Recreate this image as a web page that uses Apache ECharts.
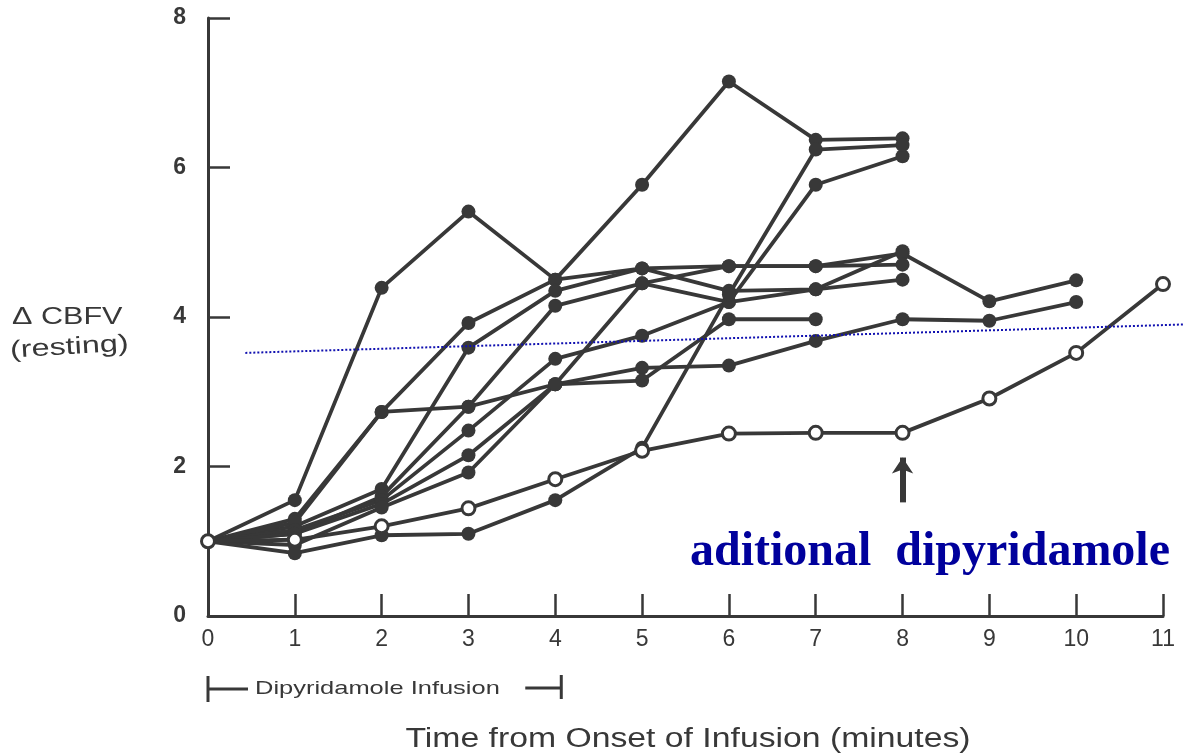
<!DOCTYPE html>
<html>
<head>
<meta charset="utf-8">
<script src="https://cdn.jsdelivr.net/npm/echarts@6/dist/echarts.min.js"></script>
<style>html,body{margin:0;padding:0;background:#fff;}#c{width:1184px;height:755px;}</style>
</head>
<body>
<div id="c"></div>
<script>
const minutes = [0,1,2,3,4,5,6,7,8,9,10,11];
const yTicks = [0,2,4,6,8];
const s1 = [1, 1.55, 4.39, 5.41, 4.5, 4.65, 4.68, 4.68, 4.85, 4.21, 4.49];
const s2 = [1, 1.3, 2.73, 3.92, 4.5, 5.77, 7.15, 6.37, 6.39];
const s3 = [1, 1.2, 1.7, 3.59, 4.35, 4.65, 4.35, 4.37, 4.5];
const s4 = [1, 1.1, 1.6, 2.8, 4.15, 4.45, 4.2, 4.37, 4.88];
const s5 = [1, 1.25, 2.73, 2.8, 3.1, 3.32, 3.35, 3.68, 3.97, 3.95, 4.2];
const s6 = [1, 1.15, 1.55, 2.48, 3.44, 3.75, 4.2, 5.77, 6.15];
const s7 = [1, 1.1, 1.5, 2.15, 3.1, 3.15, 3.97, 3.97];
const s8 = [1, 0.95, 1.45, 1.92, 3.1, 4.45, 4.68, 4.68, 4.7];
const s9 = [1, 0.84, 1.08, 1.1, 1.55, 2.25, 4.3, 6.24, 6.3];
const sOpen = [1, 1.02, 1.2, 1.44, 1.83, 2.21, 2.44, 2.45, 2.45, 2.91, 3.52, 4.44];
const filled = [s1,s2,s3,s4,s5,s6,s7,s8,s9];

const ink = '#383838';
const chart = echarts.init(document.getElementById('c'));
const toPairs = arr => arr.map((v,i)=>[minutes[i], v]);

const series = filled.map((arr, k) => ({
  type:'line', name:'s'+(k+1), data: toPairs(arr),
  symbol:'circle', symbolSize:14,
  lineStyle:{color:ink, width:3.8},
  itemStyle:{color:ink},
  z: 3
}));
series.push({
  type:'line', name:'open', data: toPairs(sOpen),
  symbol:'circle', symbolSize:13,
  lineStyle:{color:ink, width:3.8},
  itemStyle:{color:'#fff', borderColor:ink, borderWidth:3},
  z: 4,
  markLine:{
    silent:true, symbol:['none','arrow'], symbolSize:[16,16],
    lineStyle:{color:ink, width:6, type:'solid'}, label:{show:false},
    data:[[{coord:[8,1.52]},{coord:[8,2.12]}]]
  }
});

chart.setOption({
  animation:false,
  backgroundColor:'#fff',
  grid:{left:208, right:21, top:18, bottom:139, containLabel:false},
  xAxis:{
    type:'value', min:0, max:11, interval:1,
    axisLine:{show:true, lineStyle:{color:ink, width:3}},
    axisTick:{show:true, inside:true, length:22, lineStyle:{color:ink, width:2.5}},
    axisLabel:{color:ink, fontSize:23, fontFamily:'Liberation Sans', margin:12},
    splitLine:{show:false}
  },
  yAxis:{
    type:'value', min:0, max:8, interval:2,
    axisLine:{show:true, lineStyle:{color:ink, width:3}},
    axisTick:{show:true, inside:true, length:22, lineStyle:{color:ink, width:2.5}},
    axisLabel:{color:ink, fontSize:23, fontFamily:'Liberation Sans', margin:22, fontWeight:'bold'},
    splitLine:{show:false}
  },
  series: series
});

const p0 = chart.convertToPixel('grid',[0,0]);
const p4 = chart.convertToPixel('grid',[4,0]);
const d1 = chart.convertToPixel('grid',[0.43,3.52]);
const d2 = chart.convertToPixel('grid',[11.24,3.9]);
const by = 689;
chart.setOption({
  graphic:[
    {type:'line', shape:{x1:d1[0], y1:d1[1], x2:d2[0], y2:d2[1]}, style:{stroke:'#1010b0', lineWidth:2, lineDash:[2,2]}, z:10},
    {type:'line', shape:{x1:p0[0], y1:by-13, x2:p0[0], y2:by+13}, style:{stroke:ink, lineWidth:3}},
    {type:'line', shape:{x1:p0[0], y1:by, x2:p0[0]+40, y2:by}, style:{stroke:ink, lineWidth:3}},
    {type:'text', x:255, y:by, scaleX:1.34, style:{text:'Dipyridamole Infusion', font:'19px "Liberation Sans"', fill:ink, textVerticalAlign:'middle'}},
    {type:'line', shape:{x1:p4[0]-30, y1:by-1, x2:p4[0]+6, y2:by-1}, style:{stroke:ink, lineWidth:3}},
    {type:'line', shape:{x1:p4[0]+6, y1:by-14, x2:p4[0]+6, y2:by+10}, style:{stroke:ink, lineWidth:3}},
    {type:'text', x:688, y:740, scaleX:1.25, style:{text:'Time from Onset of Infusion (minutes)', font:'27px "Liberation Sans"', fill:ink, textAlign:'center', textVerticalAlign:'middle'}},
    {type:'text', x:12, y:318, scaleX:1.33, style:{text:'Δ CBFV', font:'23px "Liberation Sans"', fill:ink, textVerticalAlign:'middle'}},
    {type:'text', x:10, y:351, rotation:0.06, scaleX:1.35, style:{text:'(resting)', font:'24px "Liberation Sans"', fill:ink, textVerticalAlign:'middle'}},
    {type:'text', x:1170, y:553, style:{text:'aditional  dipyridamole', font:'bold 48px "Liberation Serif"', fill:'#00009c', textAlign:'right', textVerticalAlign:'middle'}, z:10}
  ]
});
</script>
</body>
</html>
